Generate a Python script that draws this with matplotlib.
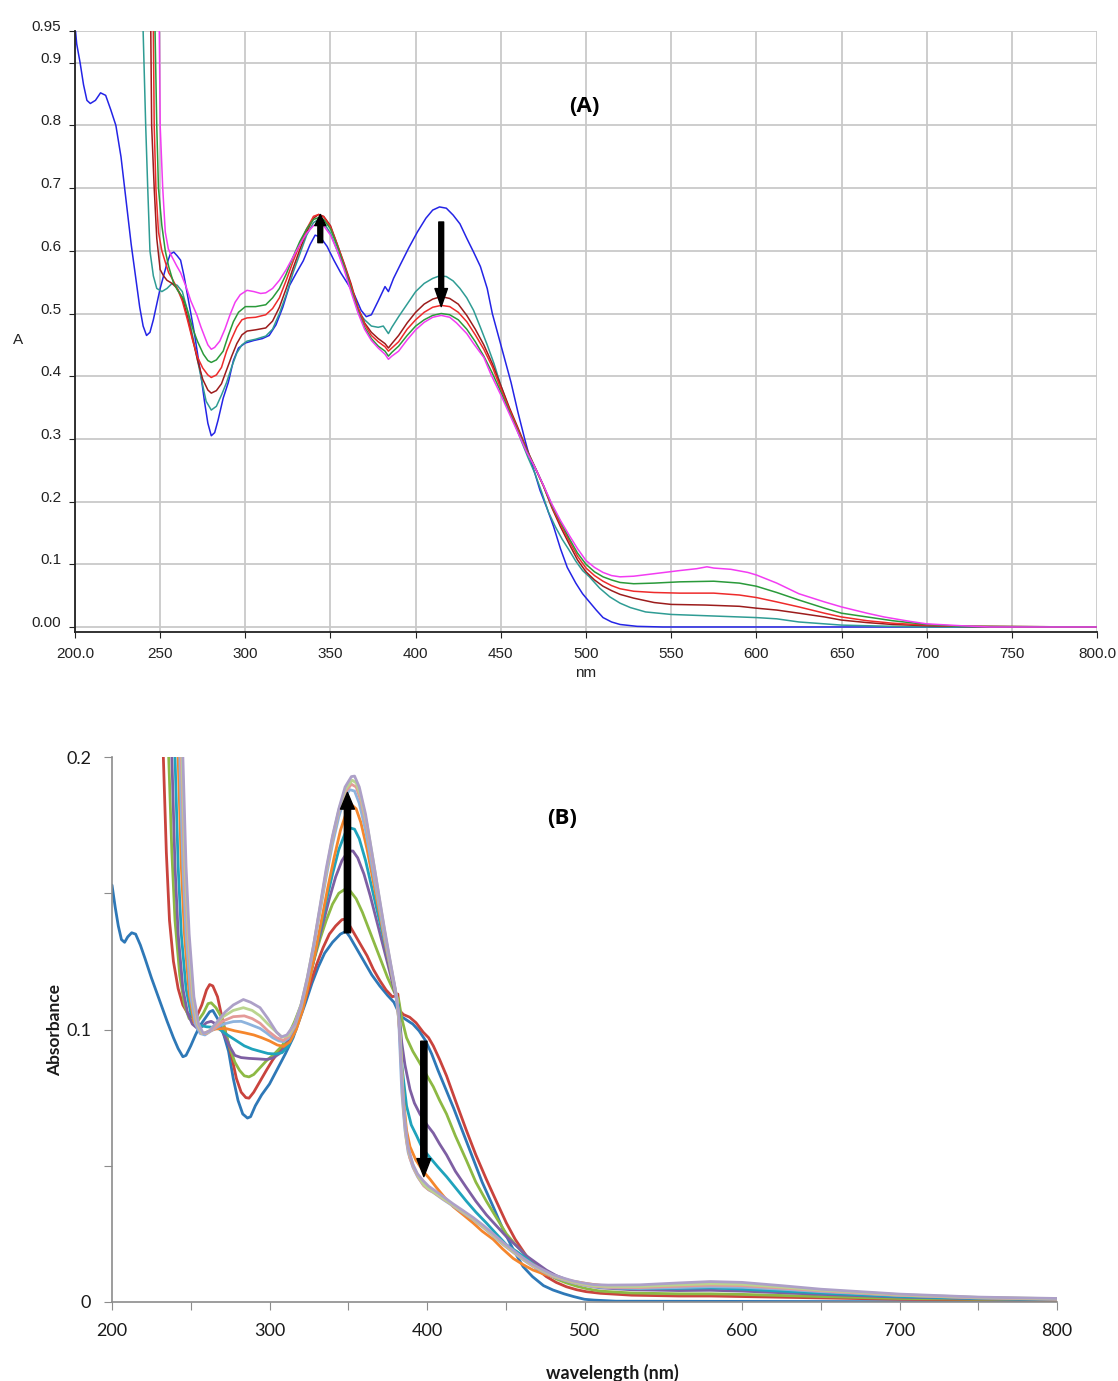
import matplotlib
matplotlib.use("Agg")
import matplotlib.pyplot as plt

W, H = 1118, 1381

# ---------------- Panel A data (wavelength nm, absorbance) ----------------
A_blue = [(200, 0.96), (201, 0.93), (203, 0.90), (205, 0.865), (207, 0.84), (209, 0.835), (212, 0.84),
          (215, 0.852), (218, 0.848), (221, 0.825), (224, 0.80), (227, 0.75), (230, 0.68), (233, 0.61),
          (236, 0.55), (238, 0.51), (240, 0.48), (242, 0.465), (244, 0.47), (246, 0.49), (248, 0.515),
          (250, 0.54), (252, 0.56), (254, 0.58), (256, 0.595), (258, 0.598), (260, 0.592), (262, 0.585),
          (264, 0.56), (266, 0.53), (268, 0.50), (270, 0.47), (272, 0.435), (274, 0.40), (276, 0.36),
          (278, 0.325), (280, 0.305), (282, 0.31), (284, 0.33), (287, 0.365), (290, 0.39), (293, 0.425),
          (296, 0.445), (300, 0.453), (305, 0.457), (310, 0.46), (314, 0.465), (318, 0.482), (322, 0.51),
          (326, 0.545), (330, 0.565), (334, 0.584), (338, 0.61), (341, 0.625), (344, 0.622), (348, 0.607),
          (352, 0.585), (356, 0.565), (360, 0.548), (364, 0.53), (368, 0.505), (371, 0.495), (374, 0.498),
          (378, 0.52), (382, 0.543), (384, 0.535), (387, 0.556), (391, 0.578), (396, 0.605), (401, 0.63),
          (406, 0.652), (410, 0.665), (414, 0.670), (418, 0.668), (422, 0.657), (426, 0.643), (430, 0.62),
          (434, 0.598), (438, 0.575), (442, 0.54), (445, 0.50), (448, 0.47), (452, 0.43), (456, 0.39),
          (460, 0.343), (464, 0.30), (467, 0.27), (470, 0.245), (473, 0.218), (477, 0.19), (481, 0.16),
          (485, 0.125), (489, 0.095), (494, 0.07), (498, 0.053), (502, 0.04), (506, 0.027), (510, 0.015),
          (515, 0.008), (520, 0.004), (530, 0.001), (545, 0.0), (800, 0.0)]

A_teal = [(239, 1.1), (240, 0.95), (241.5, 0.80), (242.7, 0.70), (244, 0.60), (246, 0.56), (248, 0.54),
          (251, 0.535), (254, 0.54), (257, 0.548), (260, 0.545), (263, 0.535), (266, 0.505), (269, 0.465),
          (272, 0.425), (275, 0.385), (277, 0.36), (280, 0.346), (283, 0.352), (286, 0.37), (289, 0.39),
          (292, 0.415), (295, 0.437), (298, 0.45), (301, 0.456), (306, 0.459), (312, 0.464), (316, 0.475),
          (320, 0.50), (324, 0.53), (328, 0.565), (332, 0.595), (336, 0.625), (340, 0.645), (343, 0.65),
          (346, 0.645), (350, 0.628), (354, 0.60), (358, 0.575), (362, 0.54), (366, 0.505), (370, 0.49),
          (374, 0.48), (378, 0.478), (381, 0.48), (383, 0.472), (384, 0.468), (386, 0.478), (390, 0.495),
          (395, 0.515), (400, 0.535), (405, 0.548), (410, 0.556), (414, 0.56), (418, 0.559), (422, 0.552),
          (426, 0.54), (430, 0.525), (434, 0.505), (438, 0.478), (442, 0.45), (446, 0.42), (450, 0.385),
          (454, 0.355), (458, 0.325), (462, 0.297), (466, 0.27), (470, 0.245), (474, 0.215), (478, 0.183),
          (482, 0.16), (486, 0.14), (490, 0.123), (494, 0.105), (498, 0.09), (502, 0.08), (508, 0.062),
          (514, 0.048), (520, 0.038), (526, 0.031), (535, 0.024), (550, 0.02), (570, 0.018), (590, 0.016),
          (600, 0.015), (612, 0.013), (625, 0.008), (640, 0.005), (650, 0.003), (665, 0.002), (680, 0.001),
          (700, 0.0), (800, 0.0)]

A_darkred = [(243, 1.1), (244.5, 0.95), (245, 0.80), (246.5, 0.70), (248, 0.62), (250, 0.57), (252, 0.56),
             (254, 0.553), (257, 0.548), (260, 0.54), (263, 0.525), (266, 0.495), (269, 0.46), (272, 0.425),
             (275, 0.395), (278, 0.378), (280, 0.373), (283, 0.377), (286, 0.388), (289, 0.41), (292, 0.432),
             (295, 0.452), (298, 0.466), (301, 0.472), (306, 0.474), (312, 0.477), (316, 0.488), (320, 0.51),
             (324, 0.54), (328, 0.572), (332, 0.602), (336, 0.63), (340, 0.652), (343, 0.658), (346, 0.655),
             (350, 0.64), (354, 0.61), (358, 0.58), (362, 0.548), (366, 0.51), (370, 0.485), (374, 0.47),
             (378, 0.46), (382, 0.452), (384, 0.445), (386, 0.452), (390, 0.465), (395, 0.485), (400, 0.502),
             (405, 0.515), (410, 0.523), (415, 0.527), (420, 0.524), (425, 0.515), (430, 0.497), (435, 0.475),
             (440, 0.45), (445, 0.42), (450, 0.385), (455, 0.35), (460, 0.318), (465, 0.285), (470, 0.255),
             (475, 0.225), (480, 0.19), (485, 0.16), (490, 0.133), (495, 0.107), (500, 0.088), (505, 0.075),
             (510, 0.065), (515, 0.058), (520, 0.052), (528, 0.046), (540, 0.039), (550, 0.036), (570, 0.035),
             (590, 0.033), (600, 0.030), (612, 0.027), (625, 0.022), (640, 0.016), (650, 0.011), (665, 0.007),
             (680, 0.004), (700, 0.002), (720, 0.001), (800, 0.0)]

A_red = [(244.5, 1.1), (246, 0.95), (246.5, 0.80), (247.5, 0.70), (249, 0.63), (251, 0.60), (253, 0.582),
         (255, 0.565), (257, 0.556), (260, 0.54), (263, 0.52), (266, 0.49), (269, 0.458), (272, 0.43),
         (275, 0.413), (278, 0.402), (280, 0.398), (283, 0.402), (286, 0.414), (289, 0.44), (292, 0.46),
         (295, 0.478), (298, 0.49), (301, 0.493), (306, 0.494), (312, 0.498), (316, 0.508), (320, 0.525),
         (324, 0.553), (328, 0.583), (332, 0.61), (336, 0.635), (340, 0.655), (343, 0.658), (346, 0.654),
         (350, 0.638), (354, 0.61), (358, 0.578), (362, 0.545), (366, 0.51), (370, 0.483), (374, 0.465),
         (378, 0.455), (382, 0.447), (384, 0.44), (386, 0.445), (390, 0.455), (395, 0.475), (400, 0.49),
         (405, 0.502), (410, 0.51), (415, 0.513), (420, 0.511), (425, 0.502), (430, 0.487), (435, 0.466),
         (440, 0.443), (445, 0.415), (450, 0.38), (455, 0.347), (460, 0.315), (465, 0.283), (470, 0.255),
         (475, 0.225), (480, 0.192), (485, 0.164), (490, 0.138), (495, 0.113), (500, 0.094), (505, 0.082),
         (510, 0.073), (515, 0.066), (520, 0.061), (528, 0.057), (540, 0.055), (555, 0.054), (575, 0.054),
         (590, 0.051), (600, 0.047), (612, 0.04), (625, 0.032), (640, 0.022), (650, 0.016), (665, 0.01),
         (680, 0.006), (700, 0.003), (720, 0.001), (800, 0.0)]

A_green = [(246, 1.1), (247, 0.95), (248, 0.80), (249, 0.70), (251, 0.64), (253, 0.60), (255, 0.575),
           (257.7, 0.55), (260, 0.538), (263.6, 0.524), (266, 0.505), (269.5, 0.473), (272, 0.455),
           (275.4, 0.435), (278, 0.425), (280, 0.422), (283, 0.426), (287, 0.44), (290, 0.465), (293, 0.487),
           (296, 0.502), (300, 0.511), (306, 0.511), (312, 0.514), (316, 0.525), (320, 0.54), (324, 0.563),
           (328, 0.59), (332, 0.615), (336, 0.635), (340, 0.65), (343, 0.653), (346, 0.65), (350, 0.635),
           (354, 0.607), (358, 0.575), (362, 0.54), (366, 0.505), (370, 0.478), (374, 0.46), (378, 0.448),
           (382, 0.44), (384, 0.432), (386, 0.438), (390, 0.448), (395, 0.465), (400, 0.48), (405, 0.49),
           (410, 0.497), (415, 0.5), (420, 0.498), (425, 0.49), (430, 0.475), (435, 0.455), (440, 0.432),
           (445, 0.405), (450, 0.375), (455, 0.343), (460, 0.312), (465, 0.282), (470, 0.255), (475, 0.226),
           (480, 0.194), (485, 0.168), (490, 0.142), (495, 0.118), (500, 0.1), (505, 0.088), (510, 0.08),
           (515, 0.075), (520, 0.071), (528, 0.069), (540, 0.07), (555, 0.072), (575, 0.073), (590, 0.07),
           (600, 0.065), (612, 0.055), (625, 0.043), (640, 0.03), (650, 0.022), (665, 0.016), (680, 0.01),
           (700, 0.004), (720, 0.001), (800, 0.0)]

A_magenta = [(248.5, 1.1), (249.5, 0.95), (250, 0.80), (251.5, 0.70), (253, 0.63), (254.8, 0.603), (257, 0.59),
             (259.7, 0.576), (262, 0.565), (265.6, 0.54), (268, 0.52), (271.5, 0.498), (274, 0.478),
             (276.4, 0.461), (278, 0.45), (280, 0.443), (282, 0.446), (285, 0.456), (288, 0.475), (291, 0.498),
             (294, 0.518), (297, 0.53), (301, 0.537), (305, 0.535), (309, 0.532), (312, 0.533), (316, 0.54),
             (320, 0.553), (324, 0.57), (328, 0.59), (332, 0.61), (336, 0.628), (340, 0.64), (343, 0.643),
             (346, 0.64), (350, 0.625), (354, 0.6), (358, 0.57), (362, 0.535), (366, 0.502), (370, 0.475),
             (374, 0.457), (378, 0.445), (382, 0.435), (384, 0.427), (386, 0.432), (390, 0.44), (395, 0.458),
             (400, 0.474), (405, 0.486), (410, 0.494), (415, 0.497), (420, 0.494), (424, 0.485), (430, 0.468),
             (434, 0.452), (440, 0.43), (444, 0.404), (450, 0.37), (455, 0.34), (460, 0.31), (465, 0.28),
             (470, 0.255), (475, 0.226), (480, 0.196), (485, 0.17), (490, 0.147), (495, 0.125), (500, 0.106),
             (505, 0.095), (510, 0.087), (515, 0.082), (520, 0.08), (528, 0.081), (540, 0.085), (555, 0.09),
             (565, 0.093), (571, 0.096), (575, 0.094), (585, 0.092), (595, 0.087), (600, 0.083), (612, 0.07),
             (625, 0.053), (640, 0.04), (650, 0.032), (665, 0.022), (675, 0.016), (690, 0.009), (700, 0.005),
             (720, 0.002), (737, 0.0), (800, 0.0)]

A_series = [A_blue, A_teal, A_darkred, A_red, A_green, A_magenta]
A_colors = ["#2424e6", "#2f9c94", "#9c1c1c", "#ee2b2b", "#2a9a3a", "#f23cf2"]

A_yticks = [0.0, 0.1, 0.2, 0.3, 0.4, 0.5, 0.6, 0.7, 0.8, 0.9, 0.95]
A_yticklabels = ["0.00", "0.1", "0.2", "0.3", "0.4", "0.5", "0.6", "0.7", "0.8", "0.9", "0.95"]
A_xticks = [200, 250, 300, 350, 400, 450, 500, 550, 600, 650, 700, 750, 800]
A_xticklabels = ["200.0", "250", "300", "350", "400", "450", "500", "550", "600", "650", "700", "750", "800.0"]

# ---------------- Panel B data ----------------
B_s1 = [(200, 0.153), (202, 0.145), (204, 0.138), (206, 0.133), (208, 0.132), (210, 0.134), (212.5, 0.1355),
        (215, 0.135), (218, 0.131), (221, 0.126), (225, 0.119), (230, 0.111), (235, 0.103), (239, 0.097),
        (242, 0.093), (245, 0.090), (247, 0.0905), (250, 0.094), (253, 0.098), (256, 0.1015), (259, 0.104),
        (262, 0.1065), (264, 0.107), (266, 0.105), (268, 0.103), (271, 0.098), (274, 0.092), (277, 0.082),
        (280, 0.074), (283, 0.069), (286, 0.0675), (288, 0.068), (291, 0.072), (295, 0.076), (300, 0.080),
        (305, 0.0855), (310, 0.091), (315, 0.097), (319, 0.1035), (323, 0.11), (327, 0.117), (331, 0.123),
        (335, 0.128), (340, 0.132), (345, 0.135), (348.5, 0.136), (351, 0.134), (355, 0.130), (360, 0.125),
        (365, 0.12), (370, 0.116), (375, 0.1125), (379, 0.11), (383, 0.105), (387, 0.1035), (391, 0.102),
        (395, 0.0995), (399, 0.096), (403, 0.091), (407, 0.085), (412, 0.078), (417, 0.071), (423, 0.062),
        (429, 0.053), (435, 0.044), (442, 0.035), (448, 0.027), (455, 0.019), (461, 0.013), (467, 0.0093),
        (474, 0.006), (480, 0.0044), (487, 0.003), (493, 0.002), (500, 0.001), (506, 0.0007), (520, 0.0003),
        (800, 0.0)]

B_s2 = [(230, 0.30), (232.6, 0.2), (234.5, 0.165), (236.5, 0.14), (239, 0.125), (242, 0.115), (245, 0.109),
        (248, 0.106), (251, 0.1045), (254, 0.105), (257, 0.109), (260, 0.1145), (262, 0.1165), (264, 0.116),
        (267, 0.112), (270, 0.104), (273, 0.097), (276, 0.09), (279, 0.082), (282, 0.077), (285, 0.075),
        (287, 0.0748), (290, 0.077), (294, 0.081), (298, 0.085), (302, 0.0888), (306, 0.092), (310, 0.095),
        (314, 0.0995), (318, 0.104), (322, 0.11), (326, 0.117), (330, 0.124), (334, 0.13), (338, 0.135),
        (342, 0.138), (346, 0.1403), (348, 0.1405), (350, 0.139), (354, 0.135), (358, 0.131), (362, 0.127),
        (366, 0.122), (370, 0.118), (374, 0.1145), (378, 0.112), (380.5, 0.1125), (381.5, 0.113),
        (382.5, 0.107), (385, 0.1055), (389, 0.1045), (393, 0.1025), (397.6, 0.099), (401, 0.097),
        (404, 0.094), (408, 0.089), (412.4, 0.083), (418, 0.074), (425, 0.063), (431, 0.054), (437.7, 0.045),
        (444, 0.037), (450.4, 0.029), (456, 0.023), (463, 0.017), (469, 0.0125), (475.8, 0.0093),
        (482, 0.0072), (488.5, 0.0056), (495, 0.0045), (501, 0.0038), (510, 0.0032), (530, 0.0025),
        (560, 0.0022), (580, 0.0022), (600, 0.002), (650, 0.0015), (700, 0.001), (750, 0.0008), (800, 0.0005)]

B_s3 = [(234, 0.25), (236, 0.2), (238, 0.165), (240, 0.14), (243, 0.12), (246, 0.109), (249, 0.104),
        (252, 0.103), (255, 0.1035), (258, 0.106), (261, 0.1095), (263, 0.1098), (266, 0.108), (269, 0.105),
        (272, 0.099), (275, 0.093), (278, 0.088), (281, 0.085), (284, 0.083), (287, 0.0826), (290, 0.0835),
        (294, 0.086), (298, 0.0885), (303, 0.091), (308, 0.094), (312, 0.098), (316, 0.103), (320, 0.109),
        (324, 0.117), (328, 0.125), (332, 0.133), (336, 0.140), (340, 0.146), (344, 0.150), (348, 0.1515),
        (351, 0.151), (355, 0.148), (359, 0.143), (363, 0.137), (367, 0.131), (371, 0.125), (375, 0.119),
        (379, 0.114), (382, 0.111), (384, 0.104), (387, 0.097), (391, 0.092), (395.5, 0.0876), (400, 0.083),
        (404, 0.079), (408, 0.074), (412.4, 0.069), (418, 0.061), (425, 0.052), (431, 0.044), (437.7, 0.037),
        (444, 0.031), (450.4, 0.025), (457, 0.0205), (463, 0.017), (469, 0.0135), (475.8, 0.0105),
        (482, 0.0085), (488.5, 0.007), (495, 0.0058), (502, 0.0048), (510, 0.004), (530, 0.0033),
        (560, 0.003), (580, 0.003), (600, 0.0028), (650, 0.002), (700, 0.0013), (750, 0.001), (800, 0.0007)]

B_s4 = [(236, 0.25), (238, 0.2), (240, 0.16), (242, 0.135), (245, 0.115), (248, 0.106), (251, 0.102),
        (254, 0.1005), (257, 0.101), (260, 0.1025), (263, 0.103), (266, 0.102), (269, 0.1005), (272, 0.097),
        (275, 0.0935), (278, 0.0905), (282, 0.0897), (287, 0.0894), (293, 0.0892), (298, 0.089),
        (302, 0.0895), (306, 0.091), (310, 0.0935), (314, 0.098), (318, 0.104), (322, 0.112), (326, 0.121),
        (330, 0.13), (334, 0.139), (338, 0.148), (342, 0.156), (346, 0.162), (350, 0.1655), (353, 0.1655),
        (356, 0.163), (360, 0.157), (364, 0.149), (368, 0.140), (372, 0.131), (376, 0.122), (379, 0.115),
        (382, 0.108), (384, 0.095), (386, 0.087), (389.2, 0.078), (392, 0.073), (395.5, 0.069), (400, 0.065),
        (404, 0.062), (408, 0.058), (412.4, 0.054), (418, 0.048), (425, 0.042), (431, 0.037), (437.7, 0.032),
        (444, 0.028), (450.4, 0.024), (457, 0.0205), (463, 0.017), (469, 0.0145), (475.8, 0.0117),
        (482, 0.0097), (488.5, 0.0082), (495, 0.007), (502, 0.006), (510, 0.0052), (530, 0.0045),
        (560, 0.0042), (580, 0.0043), (600, 0.004), (650, 0.0028), (700, 0.0018), (750, 0.0012), (800, 0.0008)]

B_s5 = [(238, 0.25), (240, 0.2), (242, 0.16), (244, 0.135), (247, 0.115), (250, 0.106), (253, 0.1025),
        (256, 0.1015), (260, 0.101), (264, 0.1008), (268, 0.1002), (272, 0.0985), (276, 0.097),
        (280, 0.0955), (284, 0.094), (289, 0.0928), (294, 0.092), (299, 0.0912), (304, 0.091), (308, 0.0915),
        (312, 0.094), (316, 0.099), (320, 0.106), (324, 0.115), (328, 0.125), (332, 0.136), (336, 0.147),
        (340, 0.157), (344, 0.166), (348, 0.172), (351, 0.174), (354, 0.1735), (357, 0.17), (361, 0.162),
        (365, 0.152), (369, 0.142), (373, 0.132), (377, 0.122), (380, 0.114), (382, 0.108), (384, 0.087),
        (387, 0.072), (390, 0.065), (393.4, 0.061), (397, 0.0565), (401.9, 0.053), (407, 0.0495),
        (412.4, 0.046), (418, 0.042), (425, 0.037), (431, 0.033), (437.7, 0.029), (444, 0.025), (450.4, 0.021),
        (457, 0.0185), (463, 0.016), (469, 0.013), (475.8, 0.0105), (482, 0.0092), (488.5, 0.008),
        (495, 0.007), (502, 0.0062), (510, 0.0055), (530, 0.005), (560, 0.005), (580, 0.0052), (600, 0.0047),
        (650, 0.0033), (700, 0.002), (750, 0.0013), (800, 0.0009)]

B_s6 = [(240, 0.25), (242, 0.2), (244, 0.16), (246, 0.135), (249, 0.113), (252, 0.103), (255, 0.1),
        (258, 0.0985), (262, 0.0995), (266, 0.1002), (272, 0.1004), (278, 0.0995), (284, 0.0988),
        (290, 0.098), (295, 0.097), (300, 0.0958), (305, 0.0943), (309, 0.0938), (313, 0.0955), (317, 0.1),
        (321, 0.107), (325, 0.117), (329, 0.128), (333, 0.14), (337, 0.152), (341, 0.163), (345, 0.173),
        (349, 0.18), (352, 0.1825), (355, 0.181), (358, 0.176), (362, 0.166), (366, 0.154), (370, 0.142),
        (374, 0.13), (378, 0.119), (381, 0.111), (383, 0.096), (385, 0.075), (387, 0.063), (389.2, 0.057),
        (393, 0.052), (397.6, 0.048), (402, 0.045), (406, 0.042), (411, 0.0385), (416.6, 0.035), (423, 0.032),
        (429.3, 0.029), (435, 0.026), (442, 0.023), (448, 0.0195), (454.7, 0.016), (461, 0.0137),
        (467.4, 0.0117), (474, 0.0103), (480, 0.0093), (487, 0.0083), (494, 0.0075), (502, 0.0067),
        (512, 0.006), (530, 0.0055), (560, 0.0057), (580, 0.006), (600, 0.0057), (650, 0.004), (700, 0.0025),
        (750, 0.0015), (800, 0.001)]

B_s7 = [(241, 0.25), (243, 0.2), (245, 0.16), (247, 0.135), (250, 0.112), (253, 0.102), (256, 0.0985),
        (259, 0.098), (263, 0.0995), (267, 0.101), (272, 0.1022), (277, 0.1029), (282, 0.103), (286, 0.1022),
        (290, 0.1013), (294, 0.1004), (298, 0.0988), (302, 0.097), (306, 0.0958), (309, 0.0955),
        (312, 0.0968), (316, 0.101), (320, 0.108), (324, 0.118), (328, 0.13), (332, 0.143), (336, 0.156),
        (340, 0.168), (344, 0.178), (348, 0.1855), (351, 0.188), (354, 0.1875), (357, 0.183), (361, 0.173),
        (365, 0.16), (369, 0.147), (373, 0.134), (377, 0.122), (380, 0.1135), (382, 0.104), (384, 0.077),
        (386, 0.063), (388, 0.055), (391, 0.0495), (394, 0.046), (397.6, 0.043), (401, 0.0412), (404, 0.0402),
        (410, 0.0377), (416.6, 0.0352), (423, 0.0327), (429.3, 0.0302), (436, 0.0272), (442, 0.0242),
        (448, 0.0212), (454.7, 0.0182), (461, 0.0155), (467.4, 0.013), (474, 0.011), (480, 0.0093),
        (487, 0.008), (493, 0.007), (499, 0.0062), (505.5, 0.0056), (515, 0.0052), (535, 0.005),
        (560, 0.0053), (580, 0.0056), (600, 0.0054), (625, 0.0047), (650, 0.0038), (700, 0.0024),
        (750, 0.0015), (800, 0.001)]

B_s8 = [(242, 0.25), (244, 0.2), (246, 0.16), (248, 0.135), (251, 0.112), (254, 0.102), (257, 0.0985),
        (260, 0.0985), (265, 0.1005), (270, 0.103), (277, 0.1047), (284, 0.105), (289, 0.104), (294, 0.1023),
        (299, 0.0995), (304.5, 0.097), (308.7, 0.096), (312, 0.0973), (316, 0.1015), (320, 0.1085),
        (324, 0.1185), (328, 0.1305), (332, 0.144), (336, 0.1575), (340, 0.17), (344, 0.18), (348, 0.187),
        (352, 0.19), (355, 0.189), (358, 0.184), (362, 0.1735), (366, 0.16), (370, 0.146), (374, 0.1325),
        (378, 0.12), (381, 0.111), (383, 0.097), (385, 0.071), (387, 0.059), (389, 0.053), (392, 0.0485),
        (395, 0.0452), (398, 0.0426), (401, 0.0412), (404, 0.0403), (410, 0.0379), (416.6, 0.0354),
        (423, 0.0329), (429.3, 0.0304), (436, 0.0274), (442, 0.0244), (448, 0.0214), (454.7, 0.0184),
        (461, 0.0157), (467.4, 0.0132), (474, 0.0112), (480, 0.0095), (487, 0.0082), (493, 0.0072),
        (499, 0.0064), (505.5, 0.0058), (515, 0.0054), (535, 0.0053), (560, 0.0058), (580, 0.0062),
        (600, 0.006), (625, 0.0051), (650, 0.0041), (700, 0.0025), (750, 0.0016), (800, 0.0011)]

B_s9 = [(242.5, 0.25), (244.5, 0.2), (246.5, 0.16), (248.5, 0.135), (251.5, 0.112), (254.5, 0.102),
        (257.5, 0.0985), (261, 0.099), (265, 0.1015), (270, 0.1045), (277, 0.107), (283.4, 0.108),
        (289, 0.107), (294, 0.105), (299, 0.102), (304.5, 0.099), (308, 0.0972), (312, 0.0978), (316, 0.102),
        (320, 0.109), (324, 0.119), (328, 0.131), (332, 0.1445), (336, 0.158), (340, 0.1705), (344, 0.1805),
        (348, 0.188), (352.5, 0.1915), (355, 0.1905), (358, 0.1855), (362, 0.175), (366, 0.1615), (370, 0.147),
        (374, 0.133), (378, 0.1205), (381, 0.1112), (383, 0.098), (385, 0.073), (387, 0.06), (389, 0.054),
        (392, 0.049), (395, 0.0456), (398, 0.043), (401, 0.0415), (404, 0.0405), (410, 0.0381),
        (416.6, 0.0356), (423, 0.0331), (429.3, 0.0306), (436, 0.0276), (442, 0.0246), (448, 0.0216),
        (454.7, 0.0186), (461, 0.0159), (467.4, 0.0134), (474, 0.0114), (480, 0.0097), (487, 0.0084),
        (493, 0.0074), (499, 0.0066), (505.5, 0.006), (515, 0.0057), (535, 0.0057), (560, 0.0063),
        (580, 0.0067), (600, 0.0065), (625, 0.0055), (650, 0.0044), (700, 0.0027), (750, 0.0017),
        (800, 0.0012)]

B_s10 = [(243, 0.25), (245, 0.2), (247, 0.16), (249, 0.135), (252, 0.112), (255, 0.102), (258, 0.0985),
         (262, 0.0995), (267, 0.103), (272, 0.1065), (277, 0.109), (283.4, 0.111), (288, 0.11), (294, 0.108),
         (299, 0.104), (304.5, 0.099), (307.6, 0.0973), (311, 0.098), (316, 0.102), (320, 0.109), (324, 0.119),
         (328, 0.131), (332, 0.145), (336, 0.159), (340, 0.171), (344, 0.181), (348, 0.189), (352, 0.1928),
         (354, 0.193), (357, 0.189), (361, 0.179), (365, 0.165), (369, 0.151), (373, 0.137), (377, 0.124),
         (380, 0.1145), (382, 0.106), (384, 0.082), (386, 0.066), (388, 0.057), (391, 0.0505), (394, 0.047),
         (397.6, 0.0445), (401, 0.0425), (404, 0.0413), (410, 0.0388), (416.6, 0.036), (423, 0.0335),
         (429.3, 0.031), (436, 0.028), (442, 0.025), (448, 0.022), (454.7, 0.019), (461, 0.0162),
         (467.4, 0.0137), (474, 0.0117), (480, 0.01), (487, 0.0087), (493, 0.0077), (499, 0.007),
         (505.5, 0.0064), (515, 0.0062), (535, 0.0063), (560, 0.007), (580, 0.0075), (600, 0.0072),
         (625, 0.006), (650, 0.0047), (700, 0.0029), (750, 0.0018), (800, 0.0013)]

B_series = [B_s1, B_s2, B_s3, B_s4, B_s5, B_s6, B_s7, B_s8, B_s9, B_s10]
B_colors = ["#2e78b7", "#c9433d", "#8db944", "#7e5fa3", "#1fa3bc", "#f5862c",
            "#8db3dd", "#e49a98", "#bad48f", "#ada0c8"]
B_xticks = [200, 250, 300, 350, 400, 450, 500, 550, 600, 650, 700, 750, 800]
B_xticklabels = ["200", "", "300", "", "400", "", "500", "", "600", "", "700", "", "800"]
B_yticks = [0.0, 0.05, 0.1, 0.15, 0.2]
B_yticklabels = ["0", "", "0.1", "", "0.2"]

# ---------------- Figure ----------------
fig = plt.figure(figsize=(W / 100, H / 100), dpi=100)

# Panel A
top_a, bot_a = 31.4, 632.0
axA = fig.add_axes([75 / W, 1 - bot_a / H, (1097 - 75) / W, (bot_a - top_a) / H])
for s, c in zip(A_series, A_colors):
    x, y = zip(*s)
    axA.plot(x, y, color=c, lw=1.1, solid_joinstyle="round")
axA.set_xlim(200, 800)
axA.set_ylim(-0.008, 0.95)
axA.set_xticks(A_xticks)
axA.set_xticklabels(A_xticklabels, family="Liberation Sans", fontsize=11, color="#222222")
axA.set_yticks(A_yticks)
axA.set_yticklabels(A_yticklabels, family="Liberation Sans", fontsize=11, color="#222222")
for lab in axA.get_yticklabels():
    lab.set_verticalalignment("baseline")
axA.grid(True, color="#c9c9c9", lw=1.3)
axA.set_axisbelow(True)
for sp in ("top", "right"):
    axA.spines[sp].set_visible(False)
for sp in ("left", "bottom"):
    axA.spines[sp].set_color("#222222")
    axA.spines[sp].set_linewidth(1.3)
axA.tick_params(axis="x", direction="out", length=4, pad=7, color="#222222")
axA.tick_params(axis="y", direction="out", length=4, pad=6, color="#222222")
axA.annotate("", xy=(344, 0.658), xytext=(344, 0.613),
             arrowprops=dict(facecolor="black", edgecolor="black", width=3.5, headwidth=8,
                             headlength=8, shrink=0))
axA.annotate("", xy=(415, 0.511), xytext=(415, 0.646),
             arrowprops=dict(facecolor="black", edgecolor="black", width=3.5, headwidth=9,
                             headlength=13, shrink=0))
axA.text(499, 0.83, "(A)", fontsize=16, fontweight="bold", family="Open Sans",
         ha="center", va="center")
fig.text(586 / W, 1 - 673 / H, "nm", family="Liberation Sans", fontsize=11, ha="center",
         va="center", color="#222222")
fig.text(18 / W, 1 - 340 / H, "A", family="Liberation Sans", fontsize=11, ha="center",
         va="center", color="#222222")

# Panel B
top_b, bot_b = 757.0, 1302.0
axB = fig.add_axes([112 / W, 1 - bot_b / H, (1057 - 112) / W, (bot_b - top_b) / H])
for s, c in zip(B_series, B_colors):
    x, y = zip(*s)
    axB.plot(x, y, color=c, lw=2.0, solid_joinstyle="round", solid_capstyle="round")
axB.set_xlim(200, 800)
axB.set_ylim(0, 0.2)
axB.set_xticks(B_xticks)
axB.set_xticklabels(B_xticklabels, family="Lato", fontsize=13, color="#1a1a1a")
axB.set_yticks(B_yticks)
axB.set_yticklabels(B_yticklabels, family="Lato", fontsize=13, color="#1a1a1a")
for sp in ("top", "right"):
    axB.spines[sp].set_visible(False)
for sp in ("left", "bottom"):
    axB.spines[sp].set_color("#8c8c8c")
    axB.spines[sp].set_linewidth(1.2)
axB.tick_params(axis="x", direction="out", length=6, pad=9, color="#8c8c8c")
axB.tick_params(axis="y", direction="out", length=6, pad=9, color="#8c8c8c")
axB.annotate("", xy=(349.5, 0.187), xytext=(349.5, 0.1355),
             arrowprops=dict(facecolor="black", edgecolor="black", width=4.5, headwidth=10,
                             headlength=12, shrink=0))
axB.annotate("", xy=(398, 0.046), xytext=(398, 0.0957),
             arrowprops=dict(facecolor="black", edgecolor="black", width=4.5, headwidth=10,
                             headlength=13, shrink=0))
axB.text(485.5, 0.1775, "(B)", fontsize=16, fontweight="bold", family="Open Sans",
         ha="center", va="center")
fig.text(55 / W, 1 - 1030 / H, "Absorbance", family="Lato", fontsize=12.5, fontweight="bold",
         rotation=90, ha="center", va="center", color="#1a1a1a")
fig.text(612 / W, 1 - 1373 / H, "wavelength (nm)", family="Lato", fontsize=13, fontweight="bold",
         ha="center", va="center", color="#1a1a1a")

fig.savefig("out.png", dpi=100)
